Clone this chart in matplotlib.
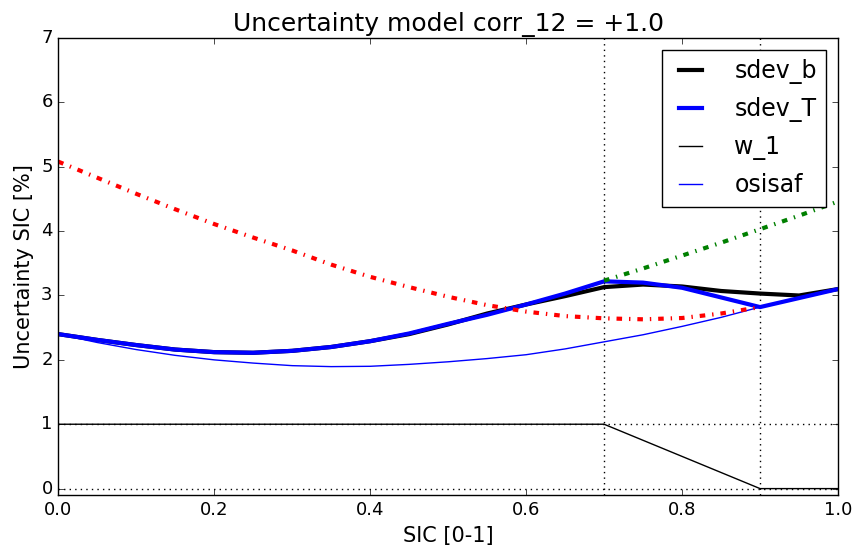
import numpy as np
import matplotlib
matplotlib.use('Agg')
from matplotlib import pyplot as plt

plt.style.use('classic')

# SIC grid
sic = [0.0, 0.05, 0.1, 0.15, 0.2, 0.25, 0.3, 0.35, 0.4, 0.45, 0.5,
       0.55, 0.6, 0.65, 0.7, 0.75, 0.8, 0.85, 0.9, 0.95, 1.0]

sdev_b = [2.40, 2.31, 2.23, 2.16, 2.12, 2.11, 2.14, 2.20, 2.29, 2.40, 2.55,
          2.72, 2.86, 2.99, 3.13, 3.17, 3.14, 3.07, 3.03, 3.00, 3.10]
sdev_T = [2.40, 2.31, 2.23, 2.16, 2.12, 2.11, 2.14, 2.20, 2.29, 2.41, 2.56,
          2.70, 2.86, 3.03, 3.22, 3.20, 3.12, 2.97, 2.82, 2.96, 3.10]
osisaf = [2.40, 2.27, 2.16, 2.07, 2.00, 1.95, 1.91, 1.895, 1.90, 1.93, 1.97,
          2.02, 2.08, 2.17, 2.28, 2.39, 2.52, 2.66, 2.82, 2.96, 3.10]

# ice-free branch (0..0.9) and ice branch (0.7..1)
sic_ow = sic[:19]
sdev_ow = [5.08, 4.83, 4.58, 4.34, 4.11, 3.90, 3.70, 3.48, 3.29, 3.13, 2.98,
           2.85, 2.75, 2.68, 2.645, 2.63, 2.65, 2.72, 2.82]
sic_ice = sic[14:]
sdev_ice = [3.23, 3.42, 3.62, 3.82, 4.03, 4.24, 4.46]

w1_x = [0.0, 0.7, 0.9, 1.0]
w1_y = [1.0, 1.0, 0.0, 0.0]

fig = plt.figure(figsize=(8.56, 5.47), dpi=100, facecolor='white')
ax = fig.add_axes([0.068, 0.095, 0.911, 0.8355])

ax.axhline(0, color='k', ls=':')
ax.axhline(1, color='k', ls=':')
ax.axvline(0.7, color='k', ls=':')
ax.axvline(0.9, color='k', ls=':')

ax.plot(sic, sdev_b, 'k-', lw=3, label='sdev_b')
ax.plot(sic, sdev_T, 'b-', lw=3, label='sdev_T')
ax.plot(w1_x, w1_y, 'k-', lw=1, label='w_1')
ax.plot(sic, osisaf, 'b-', lw=1, label='osisaf')
ax.plot(sic_ow, sdev_ow, color='r', lw=3, ls=(0, (4, 5, 1, 5)))
ax.plot(sic_ice, sdev_ice, color='g', lw=3, ls=(0, (4, 5, 1, 5)))

ax.set_xlim(0, 1)
ax.set_ylim(-0.1, 7)
ax.tick_params(labelsize=13)
ax.set_xlabel('SIC [0-1]', fontsize=15)
ax.set_ylabel('Uncertainty SIC [%]', fontsize=15)
ax.set_title('Uncertainty model corr_12 = +1.0', fontsize=18)
ax.legend(loc='upper right', fontsize=17, handlelength=1.6,
          handletextpad=1.05, labelspacing=0.55)

plt.savefig('out.png', dpi=100, facecolor='white')
